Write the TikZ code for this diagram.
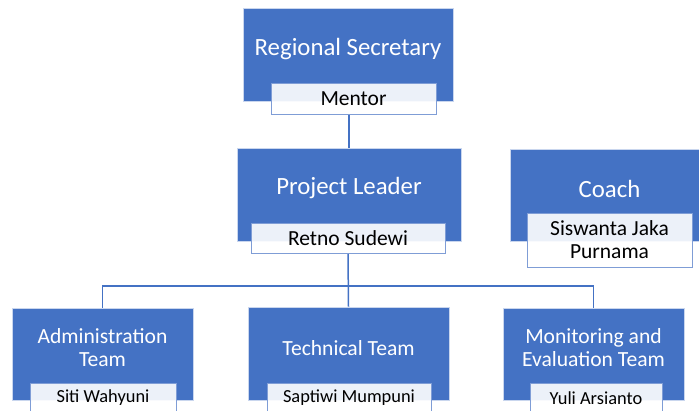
\documentclass[tikz,border=0pt]{standalone}
\usepackage{fontspec}
\setmainfont{Carlito}
\usetikzlibrary{backgrounds}
\definecolor{orgblue}{HTML}{4472C4}
\definecolor{orgrim}{HTML}{C9D6EE}
\definecolor{tagrim}{HTML}{7F9DD6}

\begin{document}
\begin{tikzpicture}[x=1pt,y=-1pt,
	unit/.style={rectangle,fill=orgblue,draw=orgrim,line width=0.7pt,inner sep=0},
	unittitle/.style={text=white,inner sep=0,align=center,font=\fontsize{24.8}{28}\selectfont},
	smalltitle/.style={text=white,inner sep=0,align=center,font=\fontsize{21.6}{23}\selectfont},
	tag/.style={rectangle,fill=white,fill opacity=0.9,text opacity=1,draw=tagrim,line width=0.9pt,
		inner sep=0,align=center,font=\fontsize{21.5}{23}\selectfont},
	smalltag/.style={tag,font=\fontsize{18.4}{21}\selectfont},
	link/.style={draw=orgblue,line width=1.5pt}]
	\useasboundingbox (0,0) rectangle (699,411);
	\clip (0,0) rectangle (699,411);

	% top: regional secretary
	\node[unit,minimum width=210pt,minimum height=93pt] (secretary) at (348,54.5) {};
	\node[unittitle] (secretarytitle) at (348,49.5) {Regional Secretary};
	\node[tag,minimum width=165pt,minimum height=31pt] (mentor) at (353.5,98.5) {Mentor};

	% project leader
	\node[unit,minimum width=224pt,minimum height=93pt] (leader) at (349,194.5) {};
	\node[unittitle] (leadertitle) at (349,188.5) {Project Leader};
	\node[tag,minimum width=194pt,minimum height=30pt] (retno) at (348,238) {Retno Sudewi};

	% coach, off to the side
	\node[unit,minimum width=199pt,minimum height=92pt] (coach) at (609.5,195) {};
	\node[unittitle] (coachtitle) at (609.5,189) {Coach};
	\node[tag,minimum width=165pt,minimum height=54pt] (siswanta) at (609.5,240) {Siswanta Jaka\\Purnama};

	% teams
	\node[unit,minimum width=181pt,minimum height=92pt] (admin) at (102.5,354) {};
	\node[smalltitle] (admintitle) at (102.5,347.5) {Administration\\Team};
	\node[smalltag,minimum width=146pt,minimum height=30pt] (siti) at (103,398) {Siti Wahyuni};

	\node[unit,minimum width=201pt,minimum height=93pt] (technical) at (348.5,353.5) {};
	\node[smalltitle] (technicaltitle) at (348.5,348) {Technical Team};
	\node[smalltag,minimum width=164pt,minimum height=30pt] (saptiwi) at (349,398) {Saptiwi Mumpuni};

	\node[unit,minimum width=181pt,minimum height=92pt] (monitor) at (593.5,354) {};
	\node[smalltitle] (monitortitle) at (593.5,347.5) {Monitoring and\\Evaluation Team};
	\node[smalltag,minimum width=132pt,minimum height=30pt] (yuli) at (596,398) {Yuli Arsianto};

	\coordinate (bus) at (348,286);

	\begin{scope}[on background layer]
	\draw[link] (leader.north) -- (leader.north |- mentor.south);
	\draw[link] (technical.north) -- (retno.south);
	\draw[link] (admin.north) |- (bus) -| (monitor.north);
	\end{scope}
\end{tikzpicture}
\end{document}
